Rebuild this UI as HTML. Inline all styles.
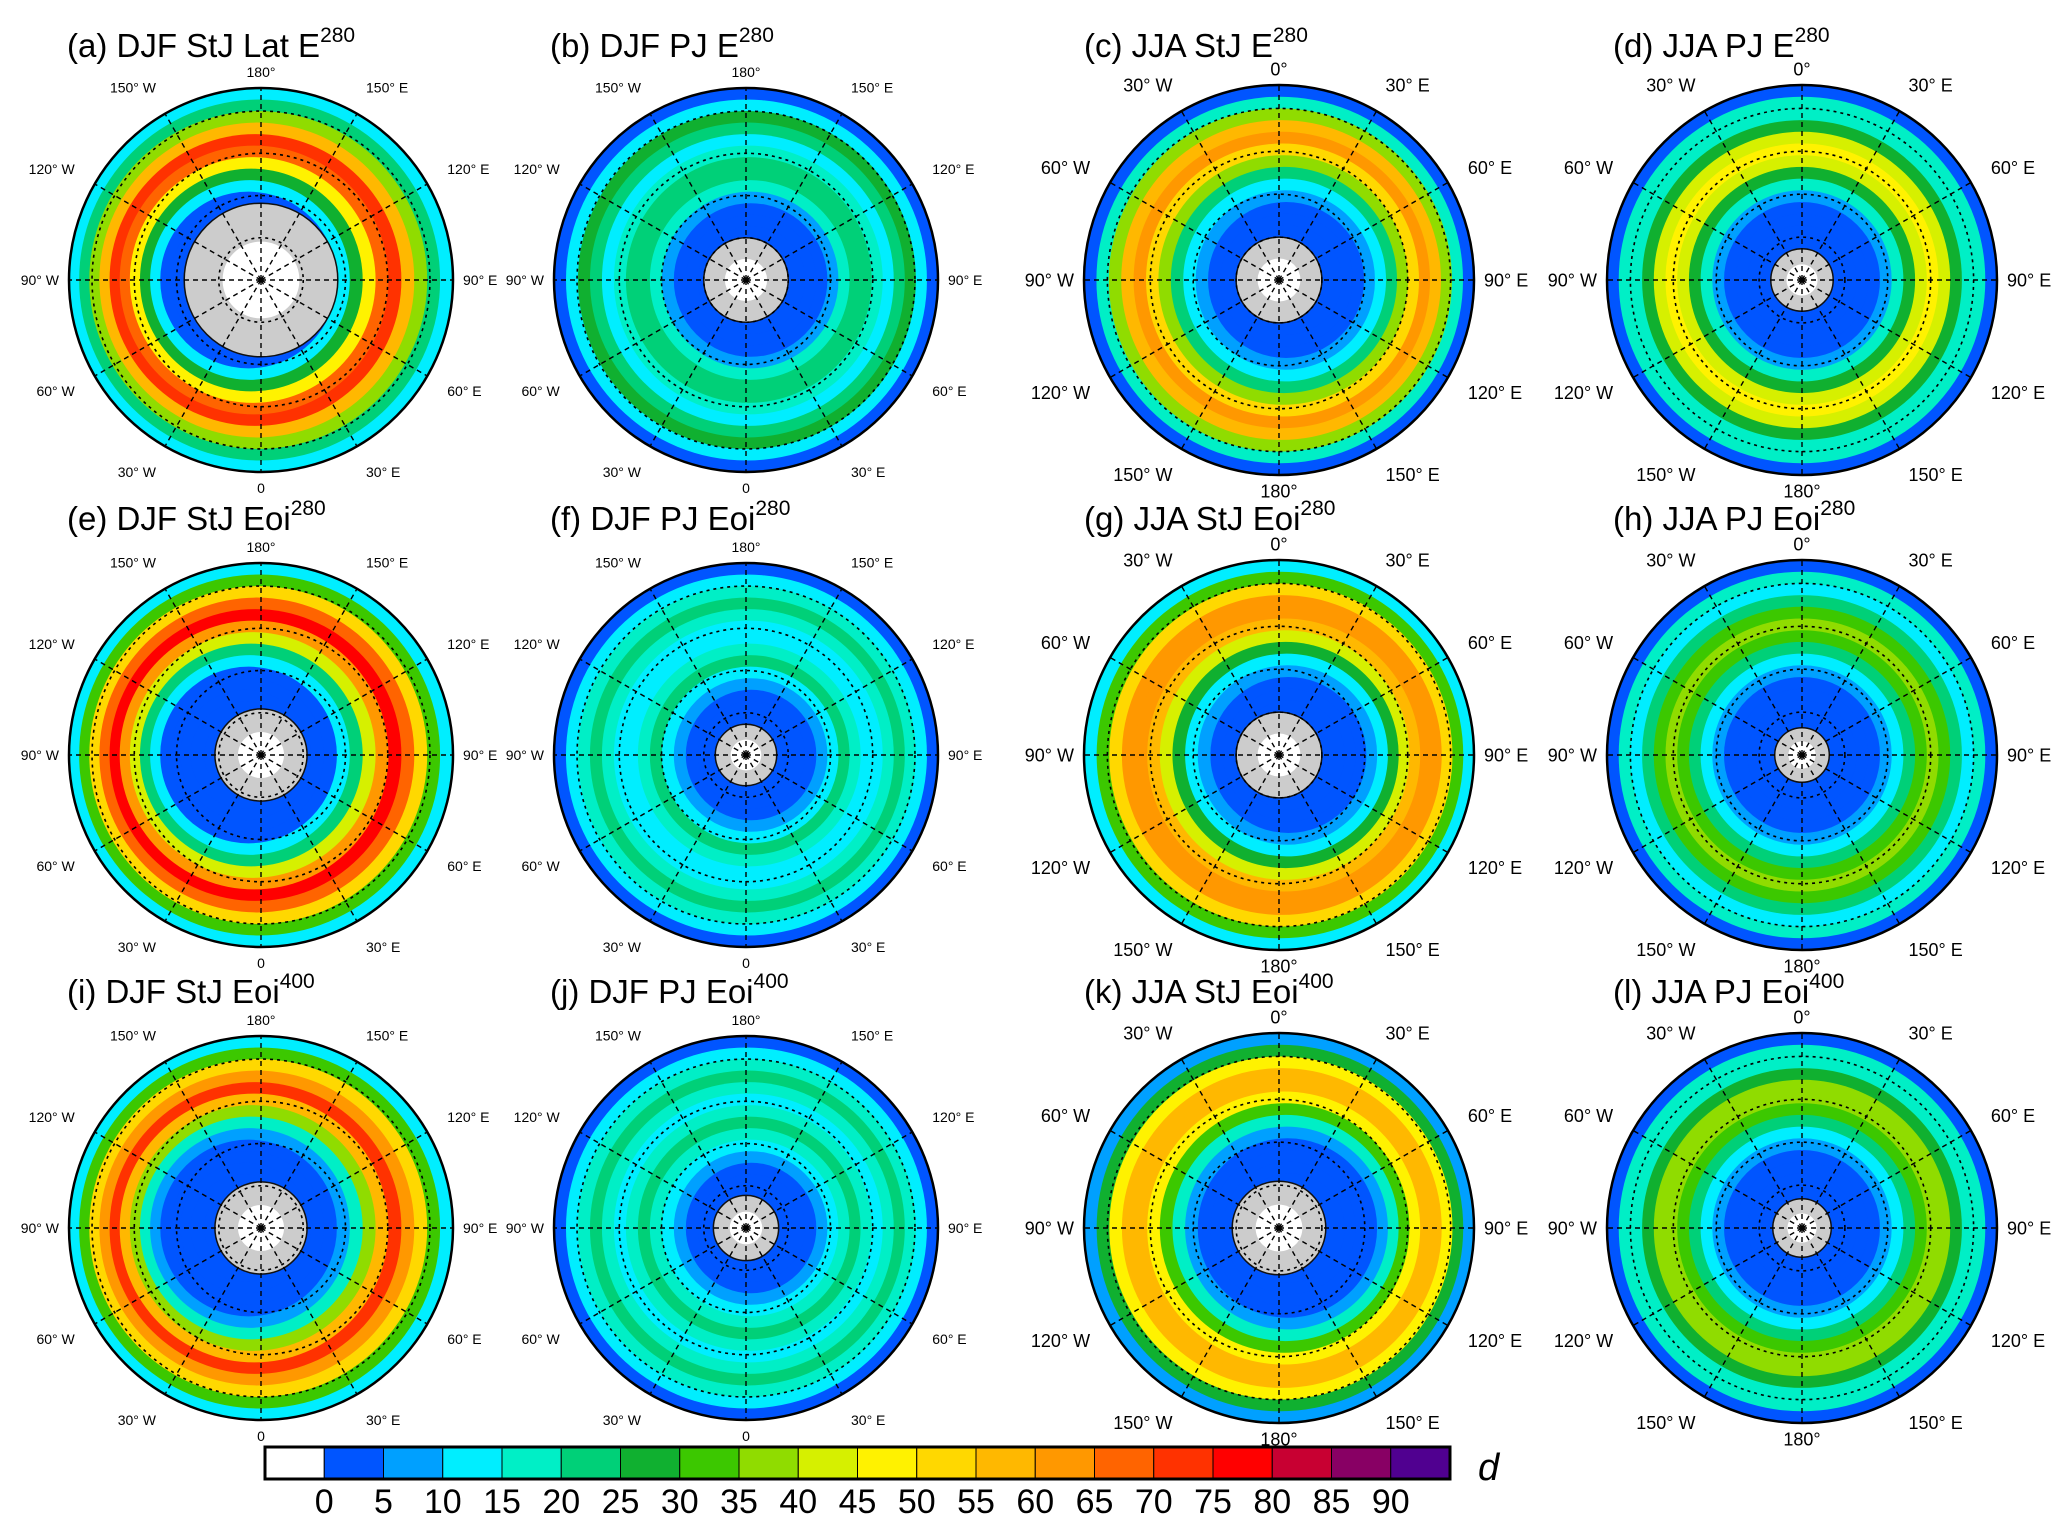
<!DOCTYPE html>
<html><head><meta charset="utf-8">
<style>
html,body{margin:0;padding:0;background:#fff;}
svg{display:block;font-family:"Liberation Sans",sans-serif;}
</style></head>
<body>
<svg id="fig" width="2067" height="1538" viewBox="0 0 2067 1538" xmlns="http://www.w3.org/2000/svg"></svg>
<script>
// ---- data ----
const panelIds = ["a","b","c","d","e","f","g","h","i","j","k","l"];
const panelTitles = ["(a) DJF StJ Lat E","(b) DJF PJ E","(c) JJA StJ E","(d) JJA PJ E",
 "(e) DJF StJ Eoi","(f) DJF PJ Eoi","(g) JJA StJ Eoi","(h) JJA PJ  Eoi",
 "(i) DJF StJ Eoi","(j) DJF PJ Eoi","(k) JJA StJ Eoi","(l) JJA PJ Eoi"];
const panelSup = ["280","280","280","280","280","280","280","280","400","400","400","400"];
const hemis = ["N","N","S","S","N","N","S","S","N","N","S","S"];
// radial fractions from edge to centre
const radialFrac = [1.0,0.94,0.88,0.82,0.76,0.70,0.64,0.58,0.52,0.46,0.40,0.34,0.28,0.20];
const profA = [10,20,35,55,70,65,45,25,12,3,2,2,0,0];
const profB = [3,12,25,20,12,15,20,22,15,8,3,3,0,0];
const profC = [3,15,35,55,60,50,35,20,10,5,3,0,0,0];
const profD = [3,15,15,25,40,45,40,25,15,5,3,0,0,0];
const profE = [10,30,50,65,75,60,40,20,10,3,2,2,0,0];
const profF = [3,10,15,20,15,12,10,15,20,12,5,3,0,0];
const profG = [10,30,50,62,62,55,40,25,12,5,3,0,0,0];
const profH = [3,15,10,20,30,35,30,20,10,5,3,0,0,0];
const profI = [10,30,50,62,70,55,35,18,8,3,2,2,0,0];
const profJ = [3,10,18,22,15,12,15,20,15,10,5,2,0,0];
const profK = [8,25,45,55,55,45,30,15,6,3,2,0,0,0];
const profL = [3,15,15,25,35,35,30,20,10,5,3,0,0,0];
const profiles = [profA,profB,profC,profD,profE,profF,profG,profH,profI,profJ,profK,profL];
const capFrac = [0.40,0.22,0.22,0.16,0.24,0.16,0.22,0.14,0.24,0.17,0.24,0.15];
const cbLabels = ["0","5","10","15","20","25","30","35","40","45","50","55","60","65","70","75","80","85","90"];
const cbColors = ["#ffffff","#0055ff","#00a0ff","#00eeff","#00efc6","#00d078","#10b030","#3cc800","#90dc00","#d6f000","#fff200","#ffd800","#ffb800","#ff9800","#ff6400","#ff3200","#ff0000","#c80032","#880064","#500090"];

// ---- layout ----
const NS="http://www.w3.org/2000/svg";
const svg=document.getElementById('fig');
function mk(tag,attrs,parent){const e=document.createElementNS(NS,tag);for(const k in attrs)e.setAttribute(k,attrs[k]);(parent||svg).appendChild(e);return e;}
const colX=[261,746,1279,1802], rowY=[280,755,1228];
const titleX=[67,550,1084,1613], titleY=[57,530,1003];
function colorFor(v){let i=Math.floor(v/5)+1; if(v<0)i=0; if(i>19)i=19; return cbColors[i];}
const offX=[-0.06,0.02,0.03,0,-0.06,0.02,0.04,0,-0.06,0.02,0.04,0];

panelIds.forEach((id,p)=>{
  const col=p%4,row=Math.floor(p/4);
  const cx=colX[col],cy=rowY[row];
  const R = col<2?192:195;
  const g=mk('g',{});
  
  
  const cp=mk('clipPath',{id:'clip'+id},g);
  mk('circle',{cx:cx,cy:cy,r:R},cp);
  const mg=mk('g',{'clip-path':'url(#clip'+id+')'},g);
  const prof=profiles[p];
  prof.forEach((v,k)=>{
    const f=radialFrac[k];
    const c=mk('circle',{cx:cx+offX[p]*R*(1-f)*2,cy:cy,r:R*f,fill:colorFor(v)},mg);
    
    
  });
  const cap=mk('circle',{cx:cx,cy:cy,r:R*capFrac[p],fill:'#cccccc',stroke:'#111','stroke-width':1.5},mg);
  
  
  mk('circle',{cx:cx,cy:cy,r:R*capFrac[p]*0.5,fill:'#ffffff'},mg);
  // grid
  [0.22,0.44,0.66,0.88].forEach(f=>mk('circle',{cx:cx,cy:cy,r:R*f,fill:'none',stroke:'#000','stroke-width':1.6,'stroke-dasharray':'3,4'},mg));
  for(let a=0;a<360;a+=30){const t=a*Math.PI/180;
    mk('line',{x1:cx,y1:cy,x2:cx+R*Math.sin(t),y2:cy-R*Math.cos(t),stroke:'#000','stroke-width':1.4,'stroke-dasharray':'5,4'},mg);}
  mk('circle',{cx:cx,cy:cy,r:R,fill:'none',stroke:'#000','stroke-width':2.5},g);
  // lon labels
  const labsN=["180°","150° E","120° E","90° E","60° E","30° E","0","30° W","60° W","90° W","120° W","150° W"];
  const labsS=["0°","30° E","60° E","90° E","120° E","150° E","180°","150° W","120° W","90° W","60° W","30° W"];
  const labs=hemis[p]=="N"?labsN:labsS;
  const fs=hemis[p]=="N"?14:18;
  labs.forEach((L,k)=>{const t=k*30*Math.PI/180; const rr=R+(k%3==0?16:30);
    let x=cx+rr*Math.sin(t), y=cy-rr*Math.cos(t)+fs*0.35;
    let anchor='middle'; if(k>0&&k<6){anchor='start';x-=6;} if(k>6){anchor='end';x+=6;}
    if(k==3||k==9){y=cy+fs*0.35;}
    const tx=mk('text',{x:x,y:y,'font-size':fs,'text-anchor':anchor,fill:'#000'},g);
    tx.textContent=L;
    
    });
  // title
  const tt=mk('text',{x:titleX[col],y:titleY[row],'font-size':33,fill:'#000'},svg);
  
  
  tt.textContent=panelTitles[p];
  const sp=mk('tspan',{'font-size':21,dy:-15},tt); sp.textContent=panelSup[p];
});

// ---- colorbar ----
const cb=mk('g',{});


const cbX0=265,cbX1=1450,cbY=1447,cbH=32;
const bw=(cbX1-cbX0)/cbColors.length;
cbColors.forEach((c,i)=>{const r=mk('rect',{x:cbX0+i*bw,y:cbY,width:bw,height:cbH,fill:c,stroke:'#000','stroke-width':1},cb);
  
  });
mk('rect',{x:cbX0,y:cbY,width:cbX1-cbX0,height:cbH,fill:'none',stroke:'#000','stroke-width':3},cb);
cbLabels.forEach((L,i)=>{const t=mk('text',{x:cbX0+(i+1)*bw,y:1513,'font-size':34,'text-anchor':'middle',fill:'#000',transform:'',},cb);
  t.textContent=L;
  
  });
const d=mk('text',{x:1478,y:1480,'font-size':38,'font-style':'italic',fill:'#000'},cb);
d.textContent='d';


</script>
</body></html>
